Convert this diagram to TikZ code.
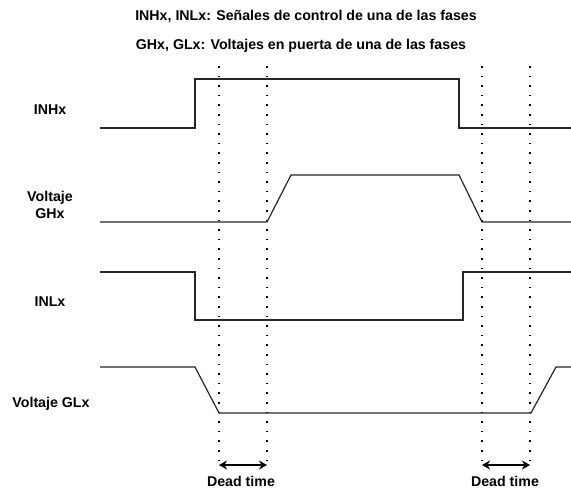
\documentclass[tikz,border=0pt]{standalone}
\usepackage{fontspec}
\setmainfont{Liberation Sans}
\usetikzlibrary{arrows.meta}
\begin{document}
\begin{tikzpicture}[x=1pt,y=-1pt,
  txt/.style={font=\bfseries\fontsize{14.2}{16.5}\selectfont, inner sep=0pt, align=center},
  wave/.style={line width=1.2pt, black!85},
  guide/.style={line width=1.6pt, dash pattern=on 1.6pt off 8pt, line cap=butt},
  span/.style={line width=1.2pt, {Stealth[length=8pt,width=9pt,inset=2.5pt]}-{Stealth[length=8pt,width=9pt,inset=2.5pt]}}]
\useasboundingbox (0,0) rectangle (571,488);

% headings
\node[txt] (h1) at (306,16) {INHx, INLx: Señales de control de una de las fases};
\node[txt] (h2) at (301,46) {GHx, GLx: Voltajes en puerta de una de las fases};

% signal names
\node[txt] (lINH) at (50,110) {INHx};
\node[txt] (lGH)  at (50,205) {Voltaje\\GHx};
\node[txt] (lINL) at (50,302) {INLx};
\node[txt] (lGL)  at (51,404) {Voltaje GLx};

% dead-time guides
\foreach \n/\x in {a/219, b/267, c/482, d/530}{
  \coordinate (\n top) at (\x,66);
  \coordinate (\n bot) at (\x,464);
  \draw[guide] (\n top) -- (\n bot);
}

% waveforms
\draw[wave] (100,128) -- (195,128) -- (195,79) -- (459,79) -- (459,128) -- (571,128);
\draw[wave] (100,222) -- (267,222) -- (291,175) -- (459,175) -- (482,222) -- (571,222);
\draw[wave] (100,272) -- (195,272) -- (195,320) -- (463,320) -- (463,272) -- (571,272);
\draw[wave] (100,367) -- (195,367) -- (219,413) -- (531,413) -- (556,367) -- (571,367);

% dead-time markers
\coordinate (a arr) at (219,465);
\coordinate (b arr) at (267,465);
\coordinate (c arr) at (482,465);
\coordinate (d arr) at (530,465);
\draw[span] (a arr) -- (b arr);
\draw[span] (c arr) -- (d arr);
\node[txt] (dt1) at (241,481) {Dead time};
\node[txt] (dt2) at (505,481) {Dead time};
\end{tikzpicture}
\end{document}
